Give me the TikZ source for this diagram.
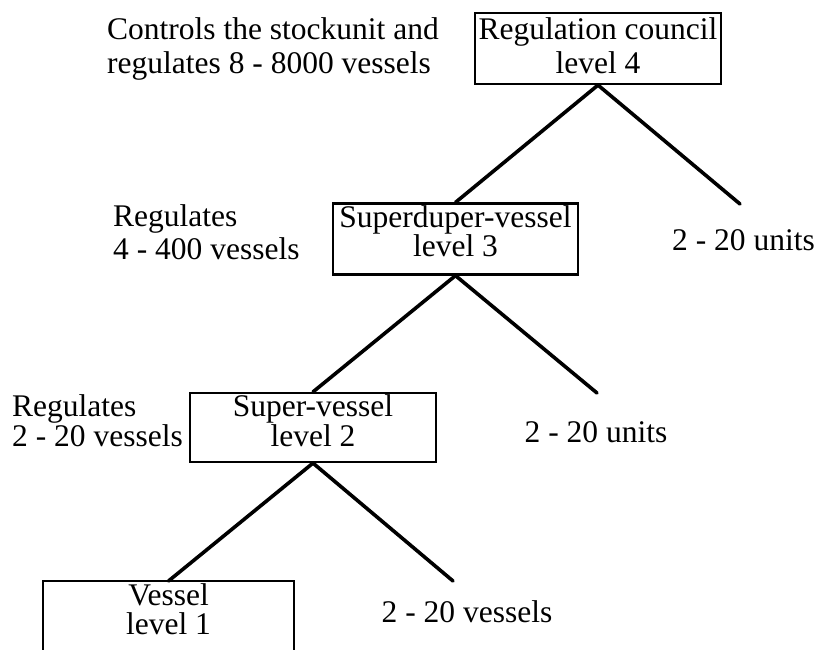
\documentclass[tikz,border=0pt]{standalone}
\usepackage{fontspec}
\setmainfont{Liberation Serif}
\newcommand{\lowpad}[1]{\rule[-#1]{0pt}{#1}}
\begin{document}
\begin{tikzpicture}[x=1pt,y=-1pt,
        levelbox/.style={draw, line width=2.2pt, minimum width=246pt, minimum height=71pt, inner sep=0pt, align=center, font=\fontsize{31.5}{30}\selectfont},
        note/.style={inner sep=0pt, align=left, font=\fontsize{31.5}{30}\selectfont},
        branch/.style={line width=3.6pt, line cap=round}]
        \useasboundingbox (0,0) rectangle (819,650);
        \clip (0,0) rectangle (819,650);
        % the four levels
        \node[levelbox] (council) at (598,48.5) {Regulation council\\[4pt]level 4\lowpad{5pt}};
        \node[levelbox, minimum width=245pt] (superduper) at (455.5,239) {Superduper-vessel\\[-1pt]level 3\lowpad{15pt}};
        \node[levelbox, minimum height=69pt] (super) at (313,427.5) {Super-vessel\\level 2\lowpad{14pt}};
        \node[levelbox, draw=none, anchor=north, minimum width=249pt, minimum height=54pt] (vessel) at (168.5,581) {Vessel\\[-1pt]level 1};
        \draw[line width=2.2pt] ([yshift=-90pt]vessel.north west) |- (vessel.north east) -- ++(0,90);
        % free ends of the right branches
        \coordinate (units4) at (740,204);
        \coordinate (units3) at (597,393);
        \coordinate (vessels2) at (453,581);
        \draw[branch] (council.south) -- (superduper.north);
        \draw[branch] (council.south) -- (units4);
        \draw[branch] (superduper.south) -- (super.north);
        \draw[branch] (superduper.south) -- (units3);
        \draw[branch] (super.south) -- (vessel.north);
        \draw[branch] (super.south) -- (vessels2);
        % texts
        \node[note, anchor=west] (controls) at (107,49) {Controls the stockunit and\\[4pt]regulates 8 - 8000 vessels};
        \node[note, anchor=west] (regthree) at (113,232) {Regulates\\[3pt]4 - 400 vessels};
        \node[note, anchor=west] (regtwo) at (12,420.5) {Regulates\\2 - 20 vessels};
        \node[note] (unitsfour) at (743.5,240.5) {2 - 20 units};
        \node[note] (unitsthree) at (596,432) {2 - 20 units};
        \node[note] (vesselstwo) at (467,612) {2 - 20 vessels};
    \end{tikzpicture}
\end{document}
